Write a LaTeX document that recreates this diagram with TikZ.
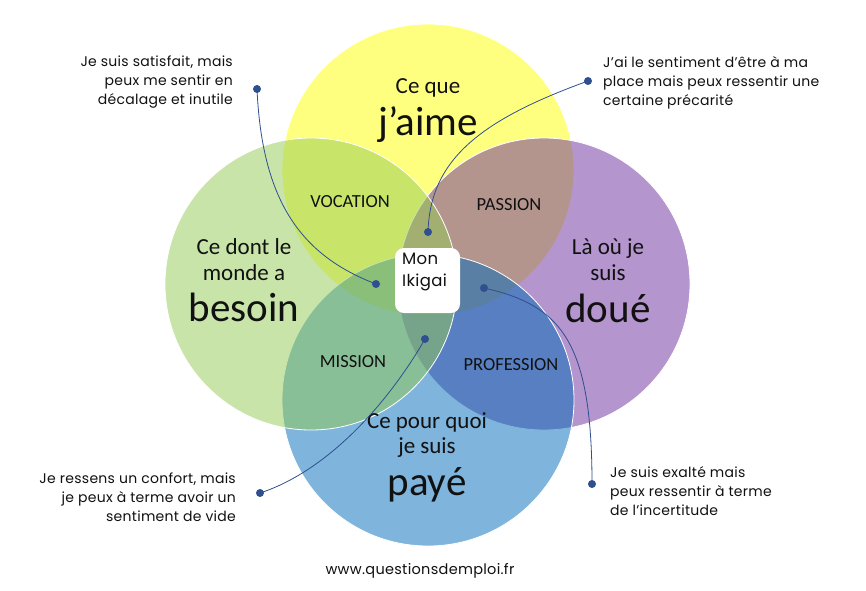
\documentclass[tikz,border=0pt]{standalone}
\usepackage{fontspec}
\setmainfont{Carlito}
\newfontfamily\gothicfont[LetterSpace=2]{Poppins}
\usetikzlibrary{positioning}
\definecolor{ikiYellow}{HTML}{FFFF00}
\definecolor{ikiPurple}{RGB}{107,45,157}
\definecolor{ikiBlue}{RGB}{0,107,187}
\definecolor{ikiGreen}{RGB}{147,202,84}
\definecolor{ikiPin}{HTML}{2F4F8F}
\definecolor{ikiInk}{HTML}{111111}

\begin{document}
\begin{tikzpicture}[x=1pt,y=-1pt,line cap=round,line join=round]
\path[fill=white] (0,0) rectangle (866,590);
\tikzset{petal/.style={draw=white,line width=0.8pt,fill opacity=0.5},
  pinline/.style={draw=ikiPin,line width=0.8pt},
  pindot/.style={circle,fill=ikiPin,inner sep=0pt,minimum size=8pt},
  midtxt/.style={anchor=base,text=ikiInk,font=\fontsize{23}{26}\selectfont},
  bigtxt/.style={anchor=base,text=ikiInk,font=\fontsize{41}{44}\selectfont},
  zonetxt/.style={text=ikiInk,font=\fontsize{18.5}{20}\selectfont},
  notetxt/.style={inner sep=0pt,text=ikiInk,font=\gothicfont\fontsize{14}{19}\selectfont}}
% the four circles
\path[petal,fill=ikiYellow] (428,170) circle (146);
\path[petal,fill=ikiPurple] (544,284) circle (146);
\path[petal,fill=ikiBlue] (428,400) circle (146);
\path[petal,fill=ikiGreen] (311,284) circle (146);
% centre
\path[fill=white,rounded corners=9pt] (395,248) rectangle (460,313);
\node[anchor=north west,inner sep=0pt,text=ikiInk,font=\gothicfont\fontsize{16.5}{22}\selectfont,align=left] (ikigai) at (402,253) {Mon\\Ikigai};
% circle labels
\node[midtxt] (loveA) at (428,93) {Ce que};
\node[bigtxt] (loveB) at (428,135) {j’aime};
\node[midtxt] (needA) at (244,254) {Ce dont le};
\node[midtxt] (needB) at (244,280) {monde a};
\node[bigtxt] (needC) at (244,321) {besoin};
\node[midtxt] (goodA) at (608,254) {Là où je};
\node[midtxt] (goodB) at (608,280) {suis};
\node[bigtxt] (goodC) at (608,322) {doué};
\node[midtxt] (paidA) at (427,428) {Ce pour quoi};
\node[midtxt] (paidB) at (427,453) {je suis};
\node[bigtxt] (paidC) at (427,495) {payé};
% overlaps
\node[zonetxt] (vocation) at (350,202) {VOCATION};
\node[zonetxt] (passion) at (509,205) {PASSION};
\node[zonetxt] (mission) at (353,362) {MISSION};
\node[zonetxt] (profession) at (511,365) {PROFESSION};
% notes
\node[notetxt,anchor=north east,align=right] (noteA) at (233,56) {Je suis satisfait, mais\\peux me sentir en\\décalage et inutile};
\node[notetxt,anchor=north west,align=left] (noteB) at (603,56) {J’ai le sentiment d’être à ma\\place mais peux ressentir une\\certaine précarité};
\node[notetxt,anchor=north east,align=right] (noteC) at (236,473) {Je ressens un confort, mais\\je peux à terme avoir un\\sentiment de vide};
\node[notetxt,anchor=north west,align=left] (noteD) at (610,466) {Je suis exalté mais\\peux ressentir à terme\\de l’incertitude};
% pins
\coordinate (pinA) at (257,89); \coordinate (pinAend) at (376,284);
\coordinate (pinB) at (588,81); \coordinate (pinBend) at (428,232);
\coordinate (pinC) at (260,493); \coordinate (pinCend) at (425,339);
\coordinate (pinD) at (592,484); \coordinate (pinDend) at (484,288);
\draw[pinline] (pinA) .. controls (262,200) and (300,255) .. (pinAend);
\draw[pinline] (pinB) .. controls (480,120) and (430,160) .. (pinBend);
\draw[pinline] (pinC) .. controls (330,470) and (390,400) .. (pinCend);
\draw[pinline] (pinDend) .. controls (560,305) and (592,340) .. (pinD);
\foreach \p in {pinA,pinAend,pinB,pinBend,pinC,pinCend,pinD,pinDend}
  \node[pindot] (\p dot) at (\p) {};
\node[text=ikiInk,font=\gothicfont\fontsize{14.5}{16}\selectfont] (site) at (420,571) {www.questionsdemploi.fr};
\end{tikzpicture}
\end{document}
